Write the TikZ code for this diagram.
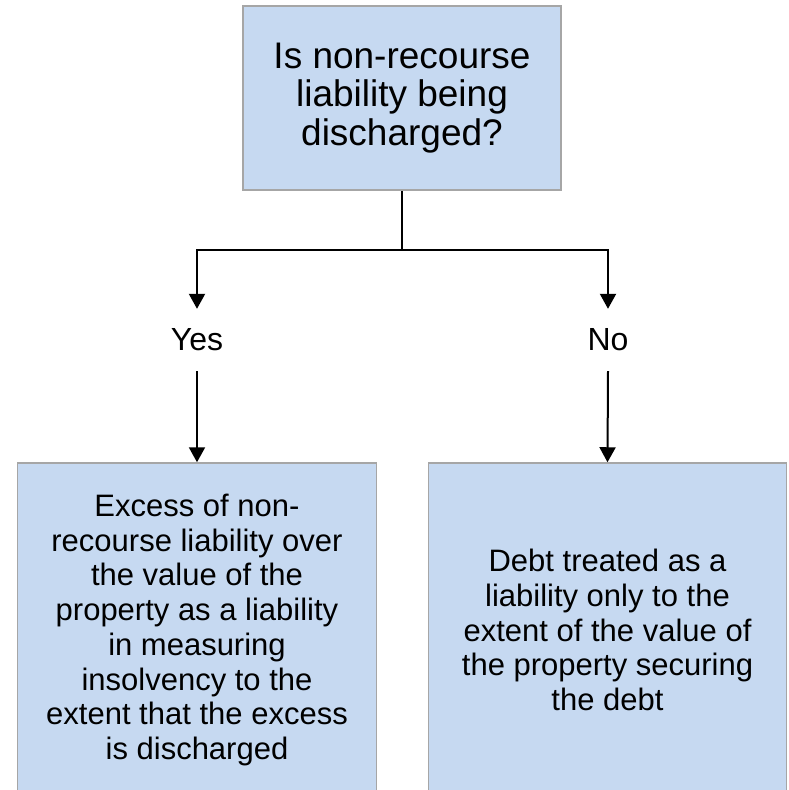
\documentclass[tikz,border=0pt]{standalone}
\usepackage{fontspec}
\setmainfont{Liberation Sans}
\usetikzlibrary{arrows.meta}
\definecolor{boxblue}{HTML}{C6D9F1}
\definecolor{boxgray}{HTML}{A6A6A6}

\begin{document}
\begin{tikzpicture}[x=1pt,y=1pt,
  box/.style={draw=boxgray,line width=1.5pt,fill=boxblue,align=center,inner sep=0pt},
  answer/.style={inner sep=0pt,minimum height=62pt,font=\fontsize{32}{34}\selectfont},
  conn/.style={line width=2pt},
  arr/.style={conn,-{Triangle[width=16pt,length=15pt]}}]
  % Frame of the picture
  \useasboundingbox (0,0) rectangle (788,-790);
  \clip (0,0) rectangle (788,-790);
  % Question box
  \node[box,minimum width=318pt,minimum height=184pt,font=\fontsize{37}{38.5}\selectfont] (q) at (402,-98) {Is non-recourse\\liability being\\discharged?};
  % Answer labels
  \node[answer] (yes) at (197,-340) {Yes};
  \node[answer] (no) at (608,-340) {No};
  % Outcome boxes
  \node[box,minimum width=359pt,minimum height=334pt,font=\fontsize{31}{34.7}\selectfont] (yesbox) at (197,-630) {Excess of non-\\recourse liability over\\the value of the\\property as a liability\\in measuring\\insolvency to the\\extent that the excess\\is discharged};
  \node[box,minimum width=358pt,minimum height=334pt,font=\fontsize{31}{34.7}\selectfont] (nobox) at (607.5,-630) {Debt treated as a\\liability only to the\\extent of the value of\\the property securing\\the debt};
  % Connectors
  \coordinate (split) at (402,-250);
  \draw[conn] (q.south) -- (split);
  \draw[arr] (split) -| (yes.north);
  \draw[arr] (split) -| (no.north);
  \draw[arr] (yes.south) -- (yesbox.north);
  \draw[arr] (no.south) -- (nobox.north);
\end{tikzpicture}
\end{document}
